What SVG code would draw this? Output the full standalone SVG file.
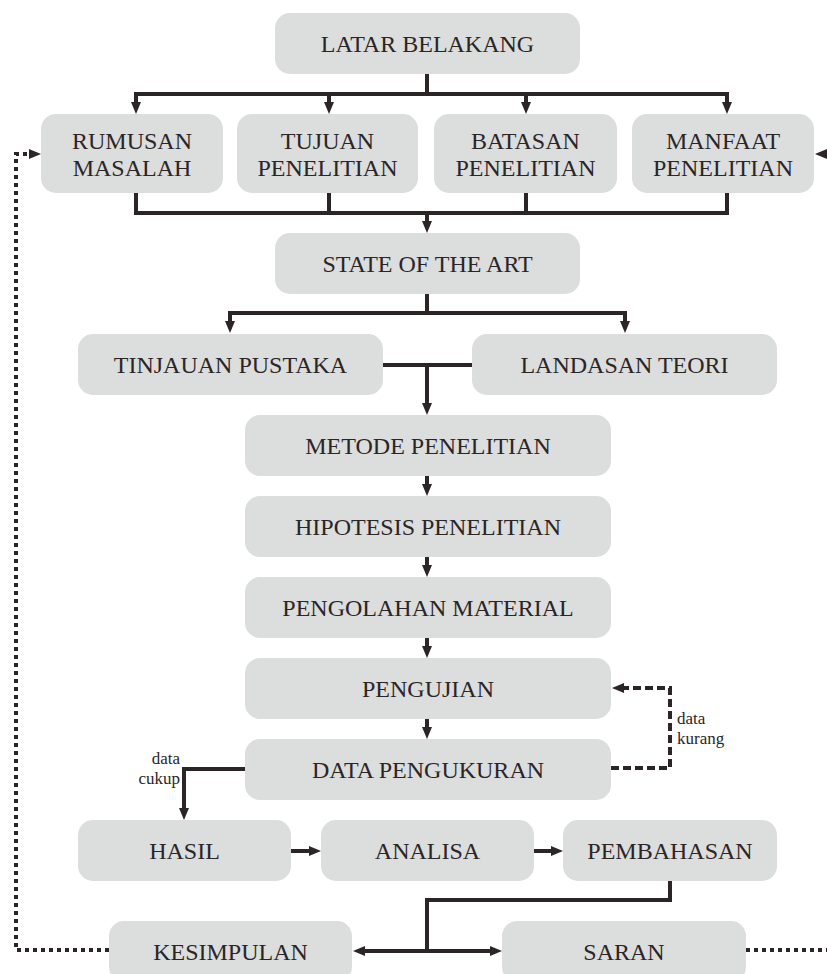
<svg xmlns="http://www.w3.org/2000/svg" width="827" height="974" viewBox="0 0 827 974">
<style>
.box{fill:#dcdddd}
.t{font-family:"Liberation Serif","Times New Roman",serif;font-size:24px;fill:#2b2526;text-anchor:middle}
.s{font-family:"Liberation Serif","Times New Roman",serif;font-size:17px;fill:#2b2526}
.c{fill:none;stroke:#2b2526;stroke-width:4;stroke-linejoin:miter}
.dot{stroke-dasharray:4 4}
.dash{stroke-dasharray:8 4}
</style>
<defs>
<marker id="ah" markerUnits="userSpaceOnUse" markerWidth="12" markerHeight="10" viewBox="0 0 12 10" refX="6" refY="5" orient="auto-start-reverse">
<path d="M0,0 L12,5 L0,10 z" fill="#2b2526"/>
</marker>
</defs>
<rect width="827" height="974" fill="#ffffff"/>
<g id="connectors">
<path class="c" d="M427,74 V94"/>
<path class="c" d="M136,108 V94 H727 V108" marker-start="url(#ah)" marker-end="url(#ah)"/>
<path class="c" d="M329,94 V108" marker-end="url(#ah)"/>
<path class="c" d="M526,94 V108" marker-end="url(#ah)"/>
<path class="c" d="M136,193 V213 H727 V193"/>
<path class="c" d="M329,193 V213"/>
<path class="c" d="M526,193 V213"/>
<path class="c" d="M427,213 V227" marker-end="url(#ah)"/>
<path class="c" d="M427,294 V313"/>
<path class="c" d="M230,327 V313 H625 V327" marker-start="url(#ah)" marker-end="url(#ah)"/>
<path class="c" d="M383,365 H472"/>
<path class="c" d="M427,365 V409" marker-end="url(#ah)"/>
<path class="c" d="M427,476 V490" marker-end="url(#ah)"/>
<path class="c" d="M427,557 V571" marker-end="url(#ah)"/>
<path class="c" d="M427,638 V652" marker-end="url(#ah)"/>
<path class="c" d="M427,719 V733" marker-end="url(#ah)"/>
<path class="c" d="M245,769 H184 V814" marker-end="url(#ah)"/>
<path class="c dash" d="M611,768 H670 V688 H618" marker-end="url(#ah)"/>
<path class="c" d="M291,851 H315" marker-end="url(#ah)"/>
<path class="c" d="M534,851 H557" marker-end="url(#ah)"/>
<path class="c" d="M670,881 V900 H427 V951"/>
<path class="c" d="M359,951 H496" marker-start="url(#ah)" marker-end="url(#ah)"/>
<path class="c dot" d="M109,950 H16 V154 H35" marker-end="url(#ah)"/>
<path class="c dot" d="M746,950 H840 V154 H821" marker-end="url(#ah)"/>
<text class="s" x="180" y="764" text-anchor="end">data</text>
<text class="s" x="180" y="784" text-anchor="end">cukup</text>
<text class="s" x="677" y="724">data</text>
<text class="s" x="677" y="744">kurang</text>
</g>
<g id="latar"><rect class="box" x="275" y="13" width="305" height="61" rx="15"/><text class="t" x="427.5" y="52">LATAR BELAKANG</text></g>
<g id="rumusan"><rect class="box" x="41" y="114" width="182" height="79" rx="15"/><text class="t" x="132" y="149">RUMUSAN</text><text class="t" x="132" y="176">MASALAH</text></g>
<g id="tujuan"><rect class="box" x="237" y="114" width="181" height="79" rx="15"/><text class="t" x="327.5" y="149">TUJUAN</text><text class="t" x="327.5" y="176">PENELITIAN</text></g>
<g id="batasan"><rect class="box" x="434" y="114" width="183" height="79" rx="15"/><text class="t" x="525.5" y="149">BATASAN</text><text class="t" x="525.5" y="176">PENELITIAN</text></g>
<g id="manfaat"><rect class="box" x="632" y="114" width="182" height="79" rx="15"/><text class="t" x="723" y="149">MANFAAT</text><text class="t" x="723" y="176">PENELITIAN</text></g>
<g id="state"><rect class="box" x="275" y="233" width="305" height="61" rx="15"/><text class="t" x="427.5" y="272">STATE OF THE ART</text></g>
<g id="tinjauan"><rect class="box" x="78" y="334" width="305" height="61" rx="15"/><text class="t" x="230.5" y="373">TINJAUAN PUSTAKA</text></g>
<g id="landasan"><rect class="box" x="472" y="334" width="305" height="61" rx="15"/><text class="t" x="624.5" y="373">LANDASAN TEORI</text></g>
<g id="metode"><rect class="box" x="245" y="415" width="366" height="61" rx="15"/><text class="t" x="428" y="454">METODE PENELITIAN</text></g>
<g id="hipotesis"><rect class="box" x="245" y="496" width="366" height="61" rx="15"/><text class="t" x="428" y="535">HIPOTESIS PENELITIAN</text></g>
<g id="pengolahan"><rect class="box" x="245" y="577" width="366" height="61" rx="15"/><text class="t" x="428" y="616">PENGOLAHAN MATERIAL</text></g>
<g id="pengujian"><rect class="box" x="245" y="658" width="366" height="61" rx="15"/><text class="t" x="428" y="697">PENGUJIAN</text></g>
<g id="data"><rect class="box" x="245" y="739" width="366" height="61" rx="15"/><text class="t" x="428" y="778">DATA PENGUKURAN</text></g>
<g id="hasil"><rect class="box" x="78" y="820" width="213" height="61" rx="15"/><text class="t" x="184.5" y="859">HASIL</text></g>
<g id="analisa"><rect class="box" x="321" y="820" width="213" height="61" rx="15"/><text class="t" x="427.5" y="859">ANALISA</text></g>
<g id="pembahasan"><rect class="box" x="563" y="820" width="214" height="61" rx="15"/><text class="t" x="670" y="859">PEMBAHASAN</text></g>
<g id="kesimpulan"><rect class="box" x="109" y="921" width="243" height="61" rx="15"/><text class="t" x="230.5" y="960">KESIMPULAN</text></g>
<g id="saran"><rect class="box" x="502" y="921" width="244" height="61" rx="15"/><text class="t" x="624" y="960">SARAN</text></g>
</svg>
